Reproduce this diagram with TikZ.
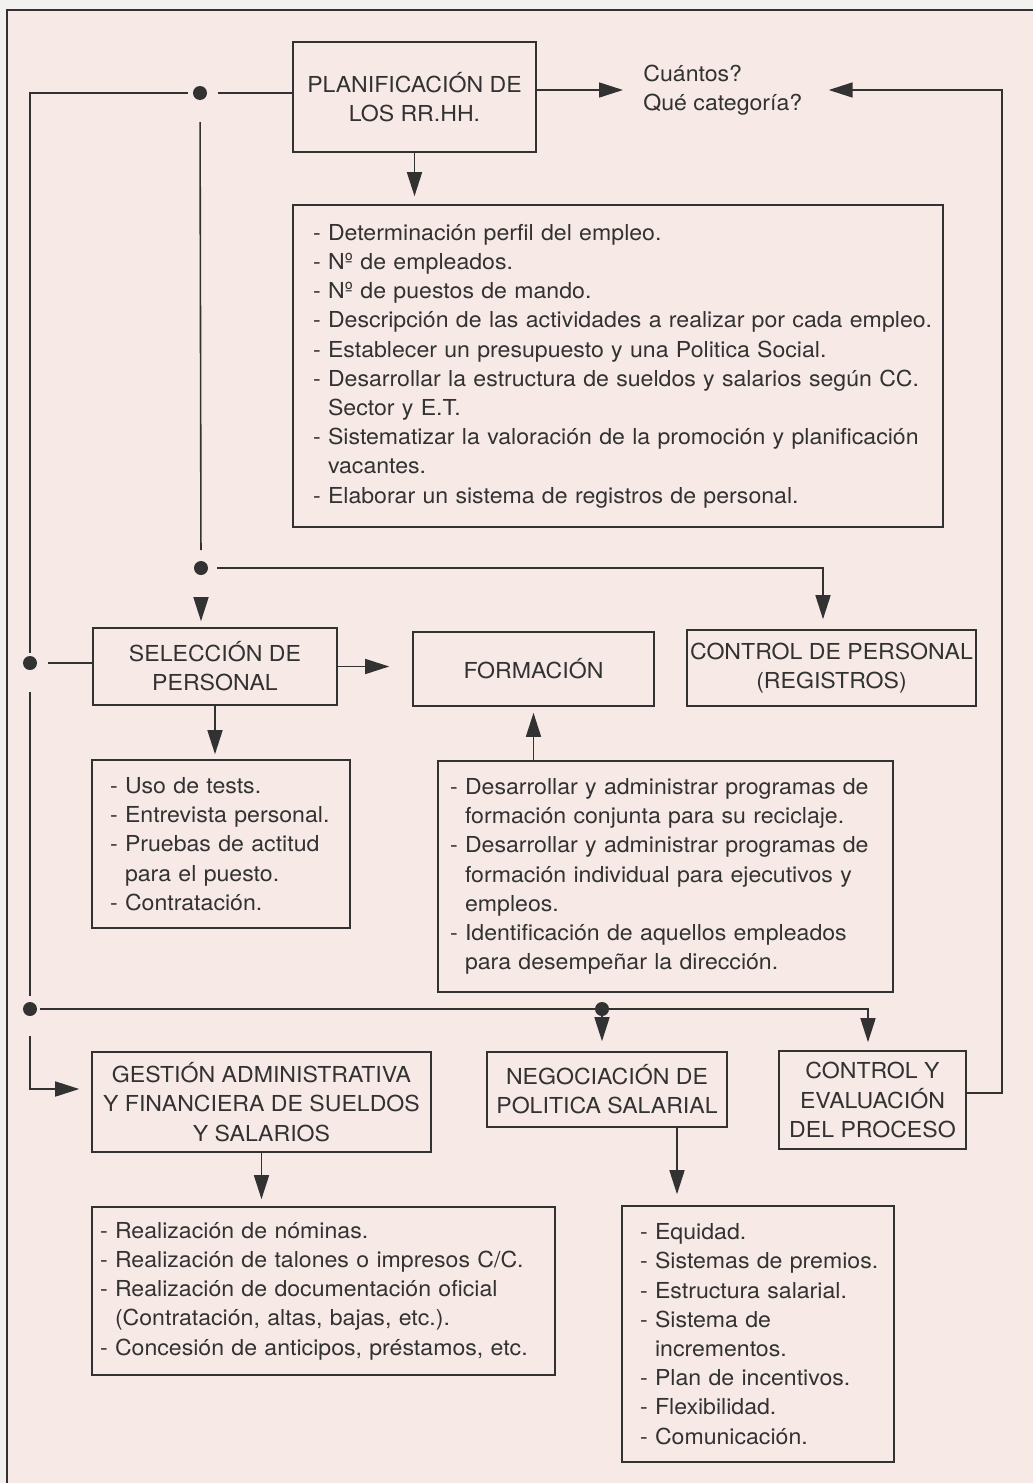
\documentclass[tikz,border=0pt]{standalone}
\usepackage{fontspec}
\setmainfont[FakeStretch=1.05]{TeX Gyre Heros}
\usetikzlibrary{arrows.meta}
\definecolor{papel}{RGB}{243,241,240}
\definecolor{rosa}{RGB}{247,233,230}
\definecolor{tinta}{RGB}{50,50,50}
\newlength{\sangria}
\newcommand{\guion}{\hspace*{\sangria}- }
\newcommand{\sigue}{\hspace*{\sangria}\phantom{- }}

\begin{document}
\begin{tikzpicture}[x=0.5pt,y=-0.5pt,font=\fontsize{11}{14.6}\selectfont,text=tinta,
  caja/.style={draw=tinta,line width=0.8pt,inner sep=0pt,align=center},
  lista/.style={caja,align=left,execute at begin node={\setlength{\sangria}{#1}}},
  linea/.style={draw=tinta,line width=0.8pt},
  flecha/.style={linea,-{Triangle[length=12pt,width=7.5pt]}}]
 \useasboundingbox (0,0) rectangle (1033,1483);
 \fill[papel] (0,0) rectangle (1033,1483);
 \fill[rosa] (7,10) rectangle (1033,1483); % fondo del recuadro
 \draw[tinta,line width=1pt] (7,1483) -- (7,10) -- (1033,10);

 \node[caja,minimum width=121.5pt,minimum height=55pt] (plan) at (414.5,97) {PLANIFICACIÓN DE\\LOS RR.HH.};
 \node[anchor=west,inner sep=0pt,align=left] (cuantos) at (643,90) {Cuántos?\\Qué categoría?};
 \node[lista=10pt,text width=325pt,minimum height=161pt] (perfil) at (618,366) {%
  \guion Determinación perfil del empleo.\\
  \guion Nº de empleados.\\
  \guion Nº de puestos de mando.\\
  \guion Descripción de las actividades a realizar por cada empleo.\\
  \guion Establecer un presupuesto y una Politica Social.\\
  \guion Desarrollar la estructura de sueldos y salarios según CC.\\
  \sigue Sector y E.T.\\
  \guion Sistematizar la valoración de la promoción y planificación\\
  \sigue vacantes.\\
  \guion Elaborar un sistema de registros de personal.};

 \node[caja,minimum width=122pt,minimum height=38.5pt] (selec) at (215,666.5) {SELECCIÓN DE\\PERSONAL};
 \node[caja,minimum width=120.5pt,minimum height=37pt] (form) at (533.5,669) {FORMACIÓN};
 \node[caja,minimum width=144.5pt,minimum height=38pt] (ctrlpers) at (831.5,668) {CONTROL DE PERSONAL\\(REGISTROS)};

 \node[lista=9pt,text width=129pt,minimum height=84pt] (selist) at (221,844) {%
  \guion Uso de tests.\\
  \guion Entrevista personal.\\
  \guion Pruebas de actitud\\
  \sigue para el puesto.\\
  \guion Contratación.};
 \node[lista=6pt,text width=227.5pt,minimum height=115.5pt] (formlist) at (665.5,876.5) {%
  \guion Desarrollar y administrar programas de\\
  \sigue formación conjunta para su reciclaje.\\
  \guion Desarrollar y administrar programas de\\
  \sigue formación individual para ejecutivos y\\
  \sigue empleos.\\
  \guion Identificación de aquellos empleados\\
  \sigue para desempeñar la dirección.};

 \node[caja,minimum width=169.5pt,minimum height=50pt] (gestion) at (261.5,1102) {GESTIÓN ADMINISTRATIVA\\Y FINANCIERA DE SUELDOS\\Y SALARIOS};
 \node[caja,minimum width=120pt,minimum height=37.5pt] (negoc) at (607,1089.5) {NEGOCIACIÓN DE\\POLITICA SALARIAL};
 \node[caja,minimum width=93.5pt,minimum height=49pt] (ctrleval) at (872.5,1100) {CONTROL Y\\EVALUACIÓN\\DEL PROCESO};

 \node[lista=4pt,text width=231.5pt,minimum height=84pt] (gestlist) at (323.5,1291) {%
  \guion Realización de nóminas.\\
  \guion Realización de talones o impresos C/C.\\
  \guion Realización de documentación oficial\\
  \sigue (Contratación, altas, bajas, etc.).\\
  \guion Concesión de anticipos, préstamos, etc.};
 \node[lista=9pt,text width=136pt,minimum height=128pt] (negolist) at (758,1334) {%
  \guion Equidad.\\
  \guion Sistemas de premios.\\
  \guion Estructura salarial.\\
  \guion Sistema de\\
  \sigue incrementos.\\
  \guion Plan de incentivos.\\
  \guion Flexibilidad.\\
  \guion Comunicación.};

 % nudos y esquinas
 \coordinate (N1) at (200,93);
 \coordinate (N2) at (201,568);
 \coordinate (N3) at (30,663);
 \coordinate (N4) at (30,1009);
 \coordinate (N5) at (602,1009);
 \coordinate (E1) at (30,93);
 \coordinate (E2) at (823,568);
 \coordinate (E3) at (868,1009);
 \coordinate (E4) at (30,1089);
 \coordinate (E5) at (1002,1093);
 \coordinate (E6) at (1002,90);
 \coordinate (S1) at (677,1127);

 \draw[linea,shorten <=9pt] (N1) -- (plan.west |- N1);
 \draw[linea,shorten <=6pt,shorten >=5pt] (N1) -- (E1) -- (N3);
 \draw[linea,shorten <=14.5pt,shorten >=9pt] (N1) -- (N2);
 \draw[flecha,shorten <=15pt,shorten >=3pt] (N2) -- (selec.north -| N2);
 \draw[flecha,shorten <=8pt,shorten >=5pt] (N2) -- (E2) -- (ctrlpers.north -| E2);
 \draw[linea,shorten <=9pt] (N3) -- (selec.west |- N3);
 \draw[linea,shorten <=14.5pt,shorten >=6.5pt] (N3) -- (N4);
 \draw[flecha,shorten <=13.5pt,shorten >=6pt] (N4) -- (E4) -- (gestion.west |- E4);
 \draw[flecha,shorten <=5pt,shorten >=4pt] (N4) -- (E3) -- (ctrleval.north -| E3);
 \draw[flecha,shorten >=5pt] (N5) -- (negoc.north -| N5);

 \draw[flecha,shorten >=10pt] (plan.east |- cuantos.west) -- (cuantos.west);
 \draw[flecha,shorten >=4pt] (plan.south) -- (perfil.north -| plan.south);
 \draw[flecha,shorten >=11.5pt] (selec.east) -- (form.west |- selec.east);
 \draw[flecha,shorten >=2.5pt] (selec.south) -- (selist.north -| selec.south);
 \draw[flecha,shorten >=3pt] (formlist.north -| form.south) -- (form.south);
 \draw[flecha,shorten >=3.5pt] (gestion.south) -- (gestlist.north -| gestion.south);
 \draw[flecha,shorten >=5.5pt] (S1) -- (negolist.north -| S1);
 \draw[flecha,shorten >=13pt] (ctrleval.east |- E5) -- (E5) -- (E6) -- (cuantos.east); % vuelta al inicio

 \foreach \n in {N1,N2,N3,N4,N5}
  \fill[tinta] (\n) circle[radius=3.5pt];
\end{tikzpicture}
\end{document}
